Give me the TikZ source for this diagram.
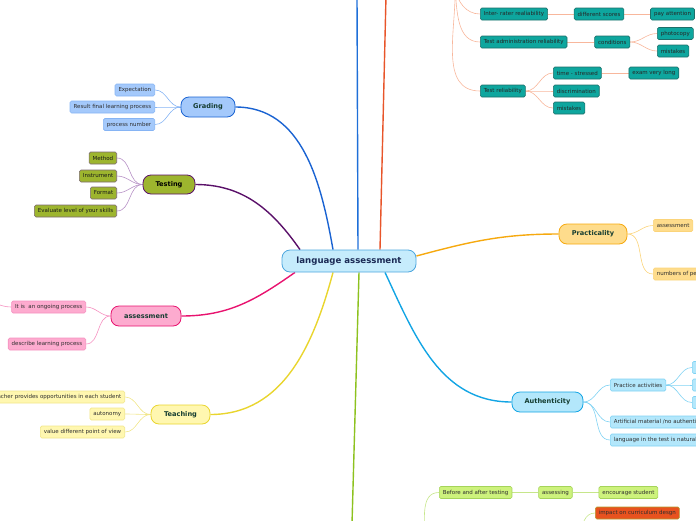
\documentclass[tikz,border=0pt]{standalone}
\usepackage{fontspec}
\setmainfont{DejaVu Sans}
\usetikzlibrary{backgrounds}
\usetikzlibrary{positioning}

\definecolor{centerfill}{HTML}{C6ECFC}
\definecolor{centerline}{HTML}{4DA6DE}
\definecolor{centertext}{HTML}{1B2A55}
\definecolor{topictext}{HTML}{143C30}
\definecolor{leaftext}{HTML}{2E2E2E}
\definecolor{gradfill}{HTML}{A4C9FB}
\definecolor{gradline}{HTML}{1A63D2}
\definecolor{gradtwig}{HTML}{86B4F4}
\definecolor{testfill}{HTML}{9DB52E}
\definecolor{testline}{HTML}{5A1069}
\definecolor{testtwig}{HTML}{B791C6}
\definecolor{testedge}{HTML}{7D6A72}
\definecolor{assfill}{HTML}{FDABCF}
\definecolor{assline}{HTML}{E8136F}
\definecolor{asstwig}{HTML}{F590C0}
\definecolor{teachfill}{HTML}{FFF7B0}
\definecolor{teachline}{HTML}{E9D52E}
\definecolor{teachtwig}{HTML}{F1E68A}
\definecolor{practfill}{HTML}{FEDC8C}
\definecolor{practline}{HTML}{F6A90F}
\definecolor{practtwig}{HTML}{FBD47A}
\definecolor{authfill}{HTML}{B3E7FB}
\definecolor{authline}{HTML}{13A5E4}
\definecolor{authtwig}{HTML}{7FD2F3}
\definecolor{relfill}{HTML}{0EA69E}
\definecolor{reledge}{HTML}{1D6F6A}
\definecolor{relline}{HTML}{E8552A}
\definecolor{reltwig}{HTML}{F8B79C}
\definecolor{topblue}{HTML}{1E6FD8}
\definecolor{greenline}{HTML}{8DC21F}
\definecolor{limefill}{HTML}{CDF27C}
\definecolor{limeedge}{HTML}{A5D45A}
\definecolor{limetwig}{HTML}{C6E68A}
\definecolor{impactfill}{HTML}{E8521F}
\definecolor{impactedge}{HTML}{B39A2E}

\begin{document}
\begin{tikzpicture}[x=1pt,y=1pt,
    leaf/.style={draw, rounded corners=1.5pt, line width=0.6pt, inner xsep=3.5pt,
                 inner ysep=0pt, minimum height=12pt, font=\fontsize{5.5}{6}\selectfont,
                 text=leaftext},
    topic/.style={draw, rounded corners=8pt, line width=0.8pt, inner sep=0pt,
                  minimum height=20pt, font=\fontsize{6.6}{7}\selectfont\bfseries,
                  text=topictext},
    branch/.style={line width=1.4pt},
    twig/.style={line width=0.6pt}]
	\useasboundingbox (0,0) rectangle (696,-520);
	\clip (0,0) rectangle (696,-520);

	% centre and main topics
	\node[topic, fill=centerfill, draw=centerline, text=centertext, minimum width=134pt,
	      minimum height=22pt, font=\fontsize{8.6}{9}\selectfont\bfseries] (center) at (349,-261) {language assessment};
	\node[topic, fill=gradfill, draw=gradline, minimum width=54pt] (grading) at (208,-107) {Grading};
	\node[topic, fill=testfill, draw=testline, text=black, minimum width=52pt, minimum height=19pt] (testing) at (169,-184.5) {Testing};
	\node[topic, fill=assfill, draw=assline, minimum width=70pt] (assessment) at (146,-316) {assessment};
	\node[topic, fill=teachfill, draw=teachline, minimum width=59pt, minimum height=19pt] (teaching) at (180.5,-414.5) {Teaching};
	\node[topic, fill=practfill, draw=practline, minimum width=68pt] (practicality) at (593,-234) {Practicality};
	\node[topic, fill=authfill, draw=authline, minimum width=71pt] (authenticity) at (547.5,-402) {Authenticity};

	\coordinate (upblue) at (357,4);
	\coordinate (upred) at (386,4);
	\coordinate (downgreen) at (352,-524);

	% Grading
	\begin{scope}[every node/.style={leaf, fill=gradfill, draw=gradtwig, anchor=east}]
		\node (expect) at (155,-90) {Expectation};
		\node (result) at (155,-107) {Result final learning process};
		\node (procnum) at (155,-124.5) {process number};
	\end{scope}

	% Testing
	\begin{scope}[every node/.style={leaf, fill=testfill, draw=testedge, text=black!90, anchor=east}]
		\node (method) at (117,-158) {Method};
		\node (instrument) at (117,-176) {Instrument};
		\node (format) at (117,-193) {Format};
		\node (skills) at (117,-211) {Evaluate level of your skills};
	\end{scope}

	% assessment
	\begin{scope}[every node/.style={leaf, fill=assfill, draw=asstwig, anchor=east}]
		\node (ongoing) at (86,-307) {It is~ an ongoing process};
		\node (describe) at (86,-344) {describe learning process};
	\end{scope}
	\coordinate (ongoingkid) at (-20,-300);

	% Teaching
	\begin{scope}[every node/.style={leaf, fill=teachfill, draw=teachtwig, anchor=east}]
		\node (chances) at (125,-397) {Teacher provides opportunities in each student};
		\node (autonomy) at (125,-414) {autonomy};
		\node (views) at (125,-432) {value different point of view};
	\end{scope}

	% Practicality
	\begin{scope}[every node/.style={leaf, fill=practfill, draw=practtwig, anchor=west}]
		\node (practass) at (653,-225.5) {assessment};
		\node (people) at (653,-274) {numbers of people};
	\end{scope}

	% Authenticity
	\begin{scope}[every node/.style={leaf, fill=authfill, draw=authtwig, anchor=west}]
		\node (practice) at (610,-385) {Practice activities};
		\node (artificial) at (610,-422) {Artificial material /no authentic};
		\node (natural) at (610,-440) {language in the test is natural};
		\node[minimum width=20pt] (act1) at (692,-367.5) {};
		\node[minimum width=20pt] (act2) at (692,-385) {};
		\node[minimum width=20pt] (act3) at (692,-402.5) {};
	\end{scope}

	% reliability (top right)
	\coordinate (relroot) at (455,12);
	\begin{scope}[every node/.style={leaf, fill=relfill, draw=reledge, text=black!85, anchor=west}]
		\node (interrater) at (480,-14) {Inter- rater realiability};
		\node[right=26pt of interrater] (scores) {different scores};
		\node[right=26pt of scores] (attention) {pay attention};
		\node (admin) at (480,-42) {Test administration reliability};
		\node[right=27pt of admin] (conditions) {conditions};
		\node (photocopy) at (657,-33.5) {photocopy};
		\node (mistakesA) at (657,-51) {mistakes};
		\node (testrel) at (480,-91) {Test reliability};
		\node (stressed) at (553,-73) {time - stressed};
		\node[right=27pt of stressed] (long) {exam very long};
		\node (discrim) at (553,-91) {discrimination};
		\node (mistakesB) at (553,-108) {mistakes};
	\end{scope}

	% bottom right
	\coordinate (limeroot) at (424,-540);
	\coordinate (impactroot) at (580,-536);
	\begin{scope}[every node/.style={leaf, fill=limefill, draw=limeedge, anchor=west}]
		\node (beforeafter) at (439,-492.5) {Before and after testing};
		\node[right=26pt of beforeafter] (assessing) {assessing};
		\node[right=26pt of assessing] (encourage) {encourage student};
		\node[fill=impactfill, draw=impactedge] (impact) at (595,-513) {impact on curriculum desgn};
	\end{scope}

	% connectors
	\begin{scope}[on background layer]
		\draw[branch, gradline] ([xshift=-16pt]center.north) to[out=100,in=0] (grading.east);
		\draw[branch, testline] ([xshift=-49pt]center.north) to[out=125,in=0] (testing.east);
		\draw[branch, assline] ([xshift=-54pt]center.south) to[out=215,in=0] (assessment.east);
		\draw[branch, teachline] ([xshift=-16pt]center.south) to[out=255,in=0] (teaching.east);
		\draw[branch, practline] ([yshift=5pt]center.east) to[out=15,in=180] (practicality.west);
		\draw[branch, authline] ([xshift=36pt]center.south) to[out=-65,in=180] (authenticity.west);
		\draw[branch, topblue] ([xshift=9pt]center.north) -- (upblue);
		\draw[branch, relline] ([xshift=31pt]center.north) -- (upred);
		\draw[branch, greenline] ([xshift=10pt]center.south) -- (downgreen);

		\begin{scope}[every path/.style={twig, draw=gradtwig}]
			\path (grading.west) edge[out=180,in=0] (expect.east)
			                     edge[out=180,in=0] (result.east)
			                     edge[out=180,in=0] (procnum.east);
		\end{scope}
		\begin{scope}[every path/.style={twig, draw=testtwig}]
			\path (testing.west) edge[out=180,in=0] (method.east)
			                     edge[out=180,in=0] (instrument.east)
			                     edge[out=180,in=0] (format.east)
			                     edge[out=180,in=0] (skills.east);
		\end{scope}
		\begin{scope}[every path/.style={twig, draw=asstwig}]
			\path (assessment.west) edge[out=180,in=0] (ongoing.east)
			                        edge[out=180,in=0] (describe.east);
			\path (ongoing.west) edge[out=180,in=0] (ongoingkid);
		\end{scope}
		\begin{scope}[every path/.style={twig, draw=teachtwig}]
			\path (teaching.west) edge[out=180,in=0] (chances.east)
			                      edge[out=180,in=0] (autonomy.east)
			                      edge[out=180,in=0] (views.east);
		\end{scope}
		\begin{scope}[every path/.style={twig, draw=practtwig}]
			\path (practicality.east) edge[out=0,in=180] (practass.west)
			                          edge[out=0,in=180] (people.west);
		\end{scope}
		\begin{scope}[every path/.style={twig, draw=authtwig}]
			\path (authenticity.east) edge[out=0,in=180] (practice.west)
			                          edge[out=0,in=180] (artificial.west)
			                          edge[out=0,in=180] (natural.west);
			\path (practice.east) edge[out=0,in=180] (act1.west)
			                      edge[out=0,in=180] (act2.west)
			                      edge[out=0,in=180] (act3.west);
		\end{scope}
		\begin{scope}[every path/.style={twig, draw=reltwig}]
			\path (relroot) edge[out=-80,in=180] (interrater.west)
			                edge[out=-85,in=180] (admin.west)
			                edge[out=-88,in=180] (testrel.west);
			\path (interrater) edge (scores);
			\path (scores) edge (attention);
			\path (admin) edge (conditions);
			\path (conditions.east) edge[out=0,in=180] (photocopy.west)
			                        edge[out=0,in=180] (mistakesA.west);
			\path (testrel.east) edge[out=0,in=180] (stressed.west)
			                     edge[out=0,in=180] (discrim.west)
			                     edge[out=0,in=180] (mistakesB.west);
			\path (stressed) edge (long);
		\end{scope}
		\begin{scope}[every path/.style={twig, draw=limetwig}]
			\path (limeroot) edge[out=85,in=180] (beforeafter.west);
			\path (beforeafter) edge (assessing);
			\path (assessing) edge (encourage);
			\path (impactroot) edge[out=80,in=180] (impact.west);
		\end{scope}
	\end{scope}
\end{tikzpicture}
\end{document}
